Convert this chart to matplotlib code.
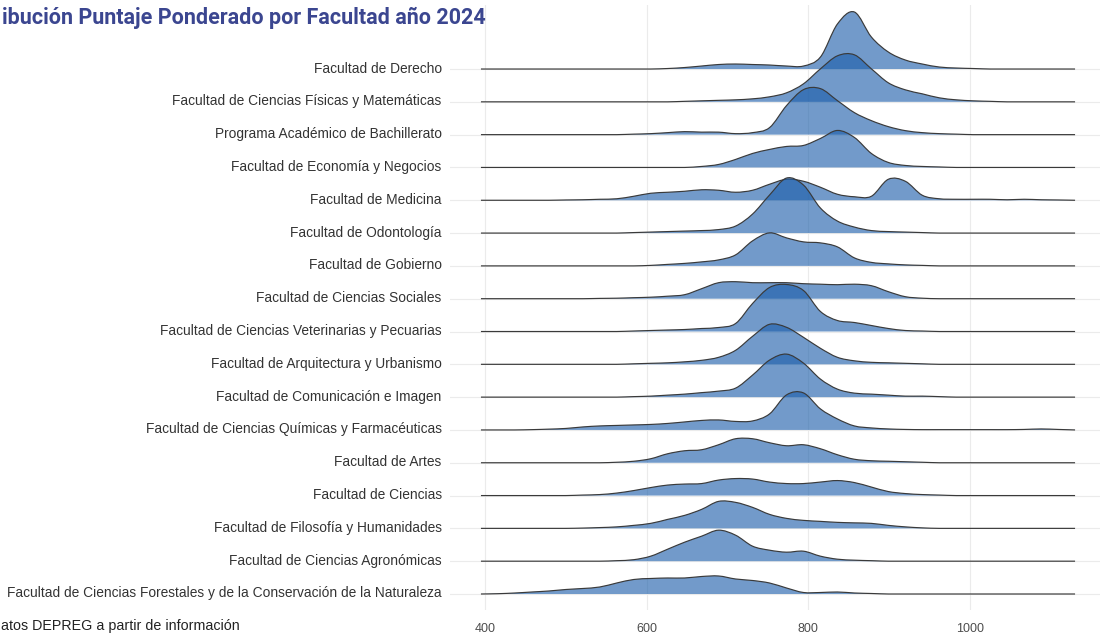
import matplotlib
matplotlib.use("Agg")
import matplotlib.pyplot as plt
from matplotlib.path import Path
from matplotlib.patches import PathPatch

# ---------------- data ----------------
facultades = [
    "Facultad de Derecho",
    "Facultad de Ciencias Físicas y Matemáticas",
    "Programa Académico de Bachillerato",
    "Facultad de Economía y Negocios",
    "Facultad de Medicina",
    "Facultad de Odontología",
    "Facultad de Gobierno",
    "Facultad de Ciencias Sociales",
    "Facultad de Ciencias Veterinarias y Pecuarias",
    "Facultad de Arquitectura y Urbanismo",
    "Facultad de Comunicación e Imagen",
    "Facultad de Ciencias Químicas y Farmacéuticas",
    "Facultad de Artes",
    "Facultad de Ciencias",
    "Facultad de Filosofía y Humanidades",
    "Facultad de Ciencias Agronómicas",
    "Facultad de Ciencias Forestales y de la Conservación de la Naturaleza",
]

# evaluation grid of the densities (puntaje ponderado)
x_grid = [395 + 21 * k for k in range(36)]

# relative density heights, one value per grid point
d_derecho = [0, 0, 0, 0, 0, 0, 0, 0, 0, 0, 0, 0.5, 1.5, 3, 4.5, 5, 4.5, 4, 3, 3,
             12, 45, 57, 32, 17, 9, 5, 2, 1, 0.5, 0, 0, 0, 0, 0, 0]
d_fisicas = [0, 0, 0, 0, 0, 0, 0, 0, 0, 0, 0, 0, 0.5, 1, 1.5, 2, 3, 5, 9, 18,
             33, 46, 47, 33, 19, 12, 8, 4, 2, 1, 0.5, 0, 0, 0, 0, 0]
d_bachillerato = [0, 0, 0, 0, 0, 0, 0, 0, 0, 0.5, 1, 2, 3, 2.5, 2.5, 1, 2, 7, 29, 45,
                  46, 34, 22, 14, 8, 4, 2, 1, 0.5, 0, 0, 0, 0, 0, 0, 0]
d_economia = [0, 0, 0, 0, 0, 0, 0, 0, 0, 0, 0, 0, 0, 1, 3, 8, 14, 18, 21, 22,
              29, 37, 30, 14, 5, 2, 1, 0.5, 0, 0, 0, 0, 0, 0, 0, 0]
d_medicina = [0, 0, 0, 0, 0, 0.3, 0.5, 1, 1.5, 4, 7, 8, 9, 10.5, 10, 8, 10, 16, 21, 19,
              13, 6, 3.5, 4, 21, 19, 5, 1.5, 1, 1, 1, 0.5, 1, 0.5, 0.3, 0]
d_odontologia = [0, 0, 0, 0, 0, 0, 0, 0, 0, 0.5, 1, 1.5, 2, 2.5, 3.5, 7, 19, 38, 55, 48,
                 25, 12, 6, 2.5, 1.5, 1, 0.5, 0, 0, 0, 0, 0, 0, 0, 0, 0]
d_gobierno = [0, 0, 0, 0, 0, 0, 0, 0, 0, 0, 0.5, 1.5, 2.5, 4, 6, 11, 25, 33, 28, 24,
              23, 19, 8, 3.5, 2, 1, 0.5, 0, 0, 0, 0, 0, 0, 0, 0, 0]
d_sociales = [0, 0, 0, 0, 0, 0, 0, 0.3, 0.5, 1, 1.5, 2.5, 4, 10, 16, 17, 16, 16, 16, 15,
              14.5, 14, 14.5, 13, 7, 2, 0.5, 0, 0, 0, 0, 0, 0, 0, 0, 0]
d_veterinarias = [0, 0, 0, 0, 0, 0, 0, 0, 0, 0.5, 1, 1.5, 2, 3, 4, 8, 28, 44, 47, 41,
                  20, 11, 9, 6, 3, 1, 0.5, 0, 0, 0, 0, 0, 0, 0, 0, 0]
d_arquitectura = [0, 0, 0, 0, 0, 0, 0, 0, 0, 0.5, 1, 1.5, 2.5, 4, 7, 14, 28, 40, 37, 27,
                  16, 7, 3.5, 2, 1.5, 1, 0.5, 0, 0, 0, 0, 0, 0, 0, 0, 0]
d_comunicacion = [0, 0, 0, 0, 0, 0, 0, 0, 0, 0.5, 1, 2, 3, 4.5, 6, 9, 22, 37, 43, 34,
                  18, 8, 4, 3, 2, 1, 1, 0.5, 0, 0, 0, 0, 0, 0, 0, 0]
d_quimicas = [0, 0, 0, 0.3, 0.8, 1.5, 3, 4, 4.5, 5, 5.5, 6.5, 8, 9.5, 10, 8.5, 9, 16, 35, 37,
              21, 11, 4, 2, 1, 0.5, 0.3, 0.3, 0.3, 0.3, 0.3, 0.3, 0.5, 1, 0.5, 0]
d_artes = [0, 0, 0, 0, 0, 0, 0, 0, 0.5, 1.5, 4, 9, 12, 13, 18, 24, 24, 20, 17, 18,
           14, 8, 3.5, 2, 1.5, 1, 0.5, 0, 0, 0, 0, 0, 0, 0, 0, 0]
d_ciencias = [0, 0, 0, 0, 0, 0, 0.5, 1, 2.5, 5, 8, 10.5, 11.5, 12, 15.5, 17, 16.5, 13.5, 12, 12,
              13.5, 15, 13, 8.5, 4, 2, 1, 0.5, 0, 0, 0, 0, 0, 0, 0, 0]
d_filosofia = [0, 0, 0, 0, 0, 0, 0.3, 0.8, 1.5, 3, 5, 9, 13, 19, 27, 26, 21, 14, 10, 8,
               7, 6, 5.5, 5, 3, 1.5, 0.5, 0, 0, 0, 0, 0, 0, 0, 0, 0]
d_agronomicas = [0, 0, 0, 0, 0, 0, 0, 0, 0.5, 1.5, 5, 12, 19, 25, 31, 26, 15, 11, 9, 10,
                 5, 2, 1, 0.5, 0, 0, 0, 0, 0, 0, 0, 0, 0, 0, 0, 0]
d_forestales = [0, 0.3, 1, 2, 3, 4.5, 5.5, 7, 11, 14.5, 15.5, 16, 16, 17.5, 18, 15, 13.5, 11, 6, 1.5,
                1.5, 2, 1, 0.5, 0, 0, 0, 0, 0, 0, 0, 0, 0, 0, 0, 0]

densidades = [d_derecho, d_fisicas, d_bachillerato, d_economia, d_medicina,
              d_odontologia, d_gobierno, d_sociales, d_veterinarias,
              d_arquitectura, d_comunicacion, d_quimicas, d_artes, d_ciencias,
              d_filosofia, d_agronomicas, d_forestales]

x_ticks = [400, 600, 800, 1000]

# visible (cropped) parts of the title and the caption
titulo = "ibución Puntaje Ponderado por Facultad año 2024"
fuente = "atos DEPREG a partir de información"

# ---------------- style / layout ----------------
W, H = 1100, 637
ROW_PX = 32.8                 # vertical distance between ridges (px)
RIDGE_SCALE = 1.0 / ROW_PX    # density units -> row units
PX_PER_UNIT = 0.8083          # horizontal px per score point
X400_PX = 485
L_PX, R_PX, B_PX, T_PX = 450, 1100, 610, 5
TOP_BASE_PX, BOT_BASE_PX = 69, 594

FILL = "#1B5DAA"
ALPHA = 0.62
LINE = "#3A3A3A"
GRID = "#EBEBEB"

fig = plt.figure(figsize=(W / 100, H / 100), dpi=100)
ax = fig.add_axes([L_PX / W, 1 - B_PX / H, (R_PX - L_PX) / W, (B_PX - T_PX) / H])

n = len(facultades)
x_lo = 400 - (X400_PX - L_PX) / PX_PER_UNIT
x_hi = 400 + (R_PX - X400_PX) / PX_PER_UNIT
y_lo = 1 - (B_PX - BOT_BASE_PX) / ROW_PX
y_hi = n + (TOP_BASE_PX - T_PX) / ROW_PX
ax.set_xlim(x_lo, x_hi)
ax.set_ylim(y_lo, y_hi)


def smooth_curve(xs, hs, base):
    """Catmull-Rom through the read points, drawn as cubic Bezier segments."""
    ys = [base + h * RIDGE_SCALE for h in hs]
    m = len(xs)
    verts = [(xs[0], ys[0])]
    codes = [Path.MOVETO]
    for i in range(m - 1):
        a = i - 1 if i > 0 else i
        d = i + 2 if i + 2 < m else i + 1
        c1x = xs[i] + (xs[i + 1] - xs[a]) / 6
        c1y = max(base, ys[i] + (ys[i + 1] - ys[a]) / 6)
        c2x = xs[i + 1] - (xs[d] - xs[i]) / 6
        c2y = max(base, ys[i + 1] - (ys[d] - ys[i]) / 6)
        verts += [(c1x, c1y), (c2x, c2y), (xs[i + 1], ys[i + 1])]
        codes += [Path.CURVE4] * 3
    return verts, codes


# grid lines
for xt in x_ticks:
    ax.axvline(xt, color=GRID, lw=0.8, zorder=0)
baselines = [n - i for i in range(n)]
for b in baselines:
    ax.axhline(b, color=GRID, lw=0.8, zorder=0)

# ridges, top first so lower ones overlap
for i, (name, dens) in enumerate(zip(facultades, densidades)):
    base = baselines[i]
    verts, codes = smooth_curve(x_grid, dens, base)
    fverts = verts + [(x_grid[-1], base), (x_grid[0], base), verts[0]]
    fcodes = codes + [Path.LINETO, Path.LINETO, Path.CLOSEPOLY]
    ax.add_patch(PathPatch(Path(fverts, fcodes), facecolor=FILL, alpha=ALPHA,
                           edgecolor="none", zorder=2 + 2 * i))
    ax.add_patch(PathPatch(Path(verts, codes), facecolor="none", edgecolor=LINE,
                           lw=0.85, zorder=3 + 2 * i))

for s in ax.spines.values():
    s.set_visible(False)

ax.set_xticks(x_ticks)
ax.set_xticklabels([str(v) for v in x_ticks], fontfamily="Liberation Sans",
                   fontsize=9, color="#4D4D4D")
ax.set_yticks([b + 2.0 / ROW_PX for b in baselines])
ax.set_yticklabels(facultades, fontfamily="Liberation Sans", fontsize=9.9,
                   color="#333333")
ax.tick_params(axis="both", length=0)
ax.tick_params(axis="x", pad=9)
ax.tick_params(axis="y", pad=6)

fig.text(2 / W, 1 - 18 / H, titulo, ha="left", va="center",
         fontfamily="Roboto", fontweight="bold", fontsize=15.5, color="#3B4690")
fig.text(1 / W, 1 - 626 / H, fuente, ha="left", va="center",
         fontfamily="Liberation Sans", fontsize=10.3, color="#222222")

fig.savefig("out.png", dpi=100)
